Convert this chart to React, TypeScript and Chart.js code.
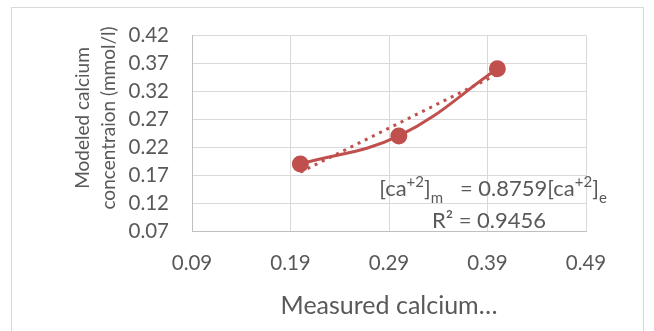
import React, { useEffect, useRef } from "react";
import { Chart, registerables } from "chart.js";

Chart.register(...registerables);

const measured = [0.2, 0.3, 0.4];
const modeled = [0.19, 0.24, 0.36];
const trendX = [0.2, 0.4];
const trendY = [0.1752, 0.3504];
const xTicks = [0.09, 0.19, 0.29, 0.39, 0.49];
const yTicks = [0.07, 0.12, 0.17, 0.22, 0.27, 0.32, 0.37, 0.42];
const yTitleLines = ["Modeled calcium", "concentraion (mmol/l)"];
const xTitle = "Measured calcium…";
const eqSegments: { t: string; k: "n" | "sup" | "sub" }[] = [
  { t: "[ca", k: "n" },
  { t: "+2", k: "sup" },
  { t: "]", k: "n" },
  { t: "m", k: "sub" },
  { t: "   = 0.8759[ca", k: "n" },
  { t: "+2", k: "sup" },
  { t: "]", k: "n" },
  { t: "e", k: "sub" },
];
const r2Text = "R² = 0.9456";

const RED = "#C0504D";
const TXT = "#595959";
const FONT = "Lato";

const decorPlugin = {
  id: "decor",
  beforeDraw(chart: any) {
    const ctx = chart.ctx;
    ctx.save();
    ctx.strokeStyle = "#d9d9d9";
    ctx.lineWidth = 1;
    ctx.strokeRect(11.5, 7.5, 632, 340);
    ctx.restore();
  },
  afterDraw(chart: any) {
    const ctx = chart.ctx;
    const ca = chart.chartArea;
    ctx.save();
    ctx.fillStyle = TXT;
    // y title
    ctx.font = `19px ${FONT}`;
    ctx.textAlign = "center";
    ctx.textBaseline = "middle";
    const cy = 118;
    yTitleLines.forEach((line, i) => {
      ctx.save();
      ctx.translate(83 + i * 26, cy);
      ctx.rotate(-Math.PI / 2);
      ctx.fillText(line, 0, 0);
      ctx.restore();
    });
    // equation
    ctx.textAlign = "left";
    ctx.textBaseline = "alphabetic";
    const size = 22;
    const small = 15;
    const seg = eqSegments.map((s) => {
      const fs = s.k === "n" ? size : small;
      ctx.font = `${fs}px ${FONT}`;
      return { ...s, fs, w: ctx.measureText(s.t).width };
    });
    const total = seg.reduce((a, s) => a + s.w, 0);
    const cx = ca.left + 297;
    let x = cx - total / 2 + 4;
    const base = ca.top + 161;
    seg.forEach((s) => {
      const dy = s.k === "sup" ? -9 : s.k === "sub" ? 7 : 0;
      ctx.font = `${s.fs}px ${FONT}`;
      ctx.fillText(s.t, x, base + dy);
      x += s.w;
    });
    ctx.font = `${size}px ${FONT}`;
    ctx.textAlign = "center";
    ctx.fillText(r2Text, cx, ca.top + 193);
    ctx.restore();
  },
};

export default function App() {
  const ref = useRef<HTMLCanvasElement>(null);
  useEffect(() => {
    document.body.style.margin = "0";
    const chart = new Chart(ref.current!, {
      type: "scatter",
      data: {
        datasets: [
          {
            label: "Modeled",
            data: measured.map((m, i) => ({ x: m, y: modeled[i] })),
            showLine: true,
            borderColor: RED,
            backgroundColor: RED,
            borderWidth: 3,
            pointRadius: 7,
            pointHoverRadius: 7,
            tension: 0.4,
            order: 1,
          },
          {
            label: "Trend",
            data: trendX.map((m, i) => ({ x: m, y: trendY[i] })),
            showLine: true,
            borderColor: RED,
            borderWidth: 3,
            borderDash: [3, 5],
            pointRadius: 0,
            order: 2,
          },
        ],
      },
      options: {
        animation: false,
        responsive: false,
        maintainAspectRatio: false,
        layout: { padding: { left: 0, top: 29, right: 68, bottom: 0 } },
        plugins: { legend: { display: false }, tooltip: { enabled: false } },
        scales: {
          x: {
            type: "linear",
            min: 0.09,
            max: 0.49,
            afterBuildTicks: (s: any) => {
              s.ticks = xTicks.map((v) => ({ value: v }));
            },
            afterFit: (s: any) => {
              s.height = 100;
            },
            grid: { color: "#d9d9d9", drawTicks: false },
            border: { color: "#bfbfbf" },
            ticks: {
              padding: 20,
              color: TXT,
              font: { family: FONT, size: 20.5 },
              callback: (v: any) => Number(v).toFixed(2),
            },
            title: {
              display: true,
              text: xTitle,
              color: TXT,
              font: { family: FONT, size: 25 },
              padding: { top: 0, bottom: 10 },
            },
          },
          y: {
            type: "linear",
            min: 0.07,
            max: 0.42,
            afterBuildTicks: (s: any) => {
              s.ticks = yTicks.map((v) => ({ value: v }));
            },
            afterFit: (s: any) => {
              s.width = 192;
            },
            grid: { color: "#d9d9d9", drawTicks: false },
            border: { color: "#bfbfbf" },
            ticks: {
              padding: 23,
              color: TXT,
              font: { family: FONT, size: 20.5 },
              callback: (v: any) => Number(v).toFixed(2),
            },
          },
        },
      },
      plugins: [decorPlugin],
    });
    return () => chart.destroy();
  }, []);
  return <canvas ref={ref} width={654} height={331} style={{ display: "block" }} />;
}
